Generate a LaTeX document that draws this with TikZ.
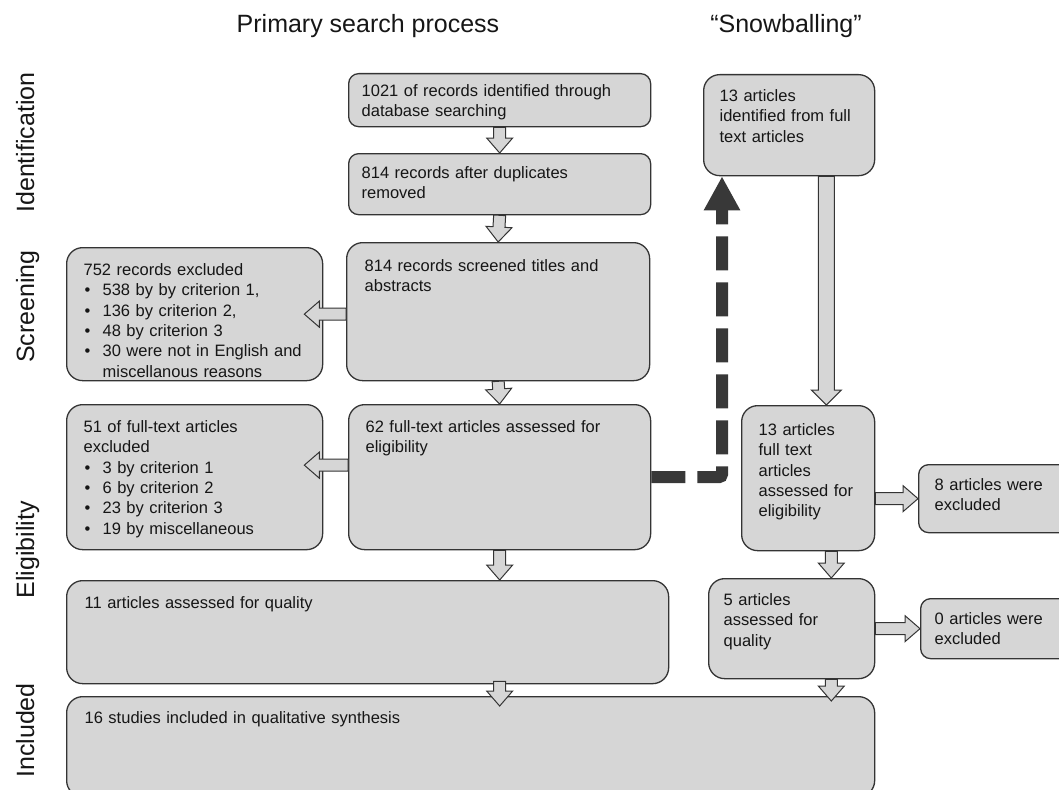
\documentclass[tikz,border=0pt]{standalone}
\usepackage{fontspec}
\setmainfont{Liberation Sans}
\usetikzlibrary{arrows.meta,calc,positioning}
\definecolor{boxC}{RGB}{214,214,214}
\definecolor{lineC}{RGB}{52,52,52}
\definecolor{dashC}{RGB}{56,56,56}
\definecolor{txtC}{RGB}{22,22,22}
\tikzset{
  box/.style={draw=lineC, fill=boxC, line width=1.3pt, rounded corners=16pt, anchor=north west, align=left, inner ysep=0pt, inner xsep=17pt, text height=28pt, text=txtC, font=\fontsize{16.5}{20.3}\selectfont},
  smallbox/.style={box, rounded corners=10pt},
  hollow/.style={draw=lineC, fill=boxC, line width=1pt, line join=miter},
  snowlink/.style={draw=dashC, line width=12pt, dash pattern=on 34pt off 12pt, rounded corners=3pt, -{Triangle[length=34pt,width=34pt]}},
  heading/.style={font=\fontsize{25}{30}\selectfont, anchor=base, text=txtC},
  phase/.style={heading, rotate=90},
}
\newcommand{\itm}{\makebox[19pt][l]{\hspace{1pt}\textbullet}}
\newcommand{\blockarrow}[3][6]{%
  \pgfmathsetmacro\bahead{#1+7}%
  \path (#2) coordinate (ba-s) (#3) coordinate (ba-e) ($(ba-e)!15pt!(ba-s)$) coordinate (ba-c);
  \draw[hollow] ($(ba-s)!#1pt!90:(ba-e)$) -- ($(ba-c)!#1pt!-90:(ba-s)$) -- ($(ba-c)!\bahead pt!-90:(ba-s)$) -- (ba-e)
    -- ($(ba-c)!\bahead pt!90:(ba-s)$) -- ($(ba-c)!#1pt!90:(ba-s)$) -- ($(ba-s)!#1pt!-90:(ba-e)$) -- cycle;}
\begin{document}
\begin{tikzpicture}[x=1pt,y=-1pt]
\path[use as bounding box, clip] (0,0) rectangle (1059,789);
\node[heading] (primary) at (368,33) {Primary search process};
\node[heading] (snow) at (786,33) {“Snowballing”};
\node[phase] (ident) at (34,142.5) {Identification};
\node[phase] (screen) at (34,306.5) {Screening};
\node[phase] (elig) at (34,550) {Eligibility};
\node[phase] (incl) at (34,730.5) {Included};

\node[smallbox, inner xsep=13pt, text width=276pt, text height=23pt, text depth=30pt] (b1) at (348,73) {1021 of records identified through\\database searching};
\node[smallbox, inner xsep=13pt, text width=276pt, text height=25pt, text depth=36pt] (b2) at (348,153) {814 records after duplicates\\removed};
\node[box, inner xsep=18pt, text width=267pt, text height=29pt, text depth=109pt] (b3) at (346,242) {814 records screened titles and\\abstracts};
\node[box, inner xsep=17pt, text width=222pt, text height=28pt, text depth=105pt] (ex1) at (66,247) {752 records excluded\\
\itm 538 by by criterion 1,\\
\itm 136 by criterion 2,\\
\itm 48 by criterion 3\\
\itm 30 were not in English and\\
\hspace*{19pt}miscellanous reasons};
\node[box, text width=268pt, text depth=117pt] (b4) at (348,404) {62 full-text articles assessed for\\eligibility};
\node[box, text width=222pt, text depth=117pt] (ex2) at (66,404) {51 of full-text articles\\excluded\\
\itm 3 by criterion 1\\
\itm 6 by criterion 2\\
\itm 23 by criterion 3\\
\itm 19 by miscellaneous};
\node[box, inner xsep=18pt, text width=566pt, text depth=75pt] (b5) at (66,580) {11 articles assessed for quality};
\node[box, inner xsep=18pt, text width=772pt, text height=27pt, text depth=73pt] (b6) at (66,696) {16 studies included in qualitative synthesis};

\node[box, inner xsep=16pt, text width=139pt, text height=27pt, text depth=74pt] (s1) at (703,74) {13 articles\\identified from full\\text articles};
\node[box, text width=99pt, text height=30pt, text depth=115pt] (s2) at (741,405) {13 articles\\full text\\articles\\assessed for\\eligibility};
\node[box, inner xsep=15pt, text width=136pt, text height=27pt, text depth=73pt] (s3) at (708,578) {5 articles\\assessed for\\quality};
\node[smallbox, inner xsep=16pt, text width=128pt, text height=26pt, text depth=42pt] (sx1) at (918,464) {8 articles were\\excluded};
\node[smallbox, inner xsep=14pt, text width=132pt, text height=26pt, text depth=34pt] (sx2) at (920,598) {0 articles were\\excluded};

\draw[snowlink] (b4.east) -| ($(s1.south west)+(19,0)$);

\blockarrow{b1.south}{b2.north}
\blockarrow{b2.south}{b3.north}
\blockarrow{b3.south}{b4.north}
\blockarrow{b4.south}{b4.south |- b5.north}
\blockarrow{$(b4.south |- b5.south)+(0,-3)$}{$(b4.south |- b6.north)+(0,10)$}
\blockarrow{b3.west |- ex1.east}{$(ex1.east)+(-19,0)$}
\blockarrow{$(b4.west)+(0,-12)$}{$(ex2.east)+(-19,-12)$}
\blockarrow[8]{$(s1.south east)+(-49,0)$}{$(s2.north east)+(-49,0)$}
\blockarrow{$(s2.south east)+(-44,0)$}{$(s3.north east)+(-44,0)$}
\blockarrow{$(s3.south east)+(-44,0)$}{$(s3.south east |- b6.north)+(-44,5)$}
\blockarrow{s2.east |- sx1.west}{sx1.west}
\blockarrow{s3.east |- sx2.west}{sx2.west}
\end{tikzpicture}
\end{document}
